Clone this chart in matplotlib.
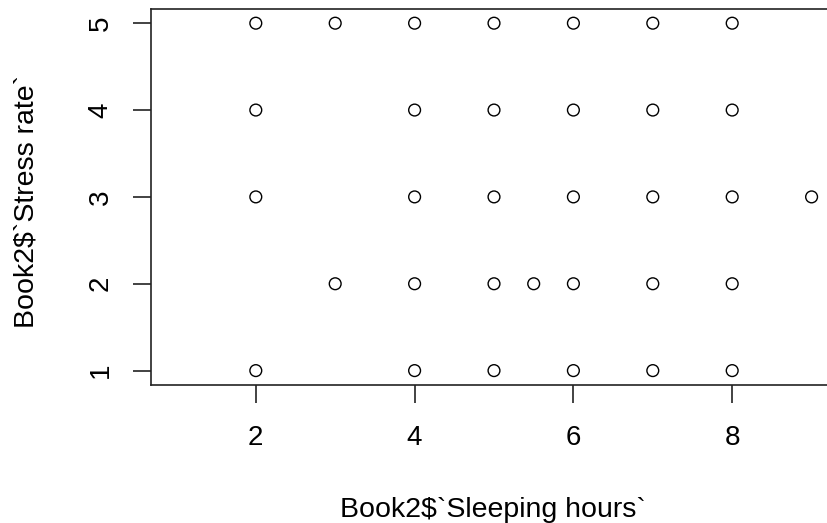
import matplotlib
matplotlib.use('Agg')
import matplotlib.pyplot as plt

# Sleeping hours vs stress rate
sleep_hours = [2, 3, 4, 5, 6, 7, 8,
               2, 4, 5, 6, 7, 8,
               2, 4, 5, 6, 7, 8, 9,
               3, 4, 5, 5.5, 6, 7, 8,
               2, 4, 5, 6, 7, 8]
stress_rate = [5, 5, 5, 5, 5, 5, 5,
               4, 4, 4, 4, 4, 4,
               3, 3, 3, 3, 3, 3, 3,
               2, 2, 2, 2, 2, 2, 2,
               1, 1, 1, 1, 1, 1]
x_ticks = [2, 4, 6, 8]
y_ticks = [1, 2, 3, 4, 5]

plt.rcParams['font.family'] = ['Liberation Sans', 'DejaVu Sans']

fig = plt.figure(figsize=(8.28, 5.23), dpi=100)
ax = fig.add_axes([151/828, 1 - 384.5/523, (837 - 151)/828, (384.5 - 9.3)/523])

ax.scatter(sleep_hours, stress_rate, s=72, facecolors='none',
           edgecolors='black', linewidths=1.0)

ax.set_xlim(0.68, 9.32)
ax.set_ylim(0.84, 5.16)
ax.set_xticks(x_ticks)
ax.set_yticks(y_ticks)
ax.tick_params(axis='both', length=13, width=1.2, labelsize=20, color='#222222')
ax.tick_params(axis='x', pad=16)
ax.tick_params(axis='y', pad=14)
for lab in ax.get_yticklabels():
    lab.set_rotation(90)
    lab.set_va('center')
for sp in ax.spines.values():
    sp.set_linewidth(1.2)
    sp.set_color('#222222')

fig.text(493/828, 1 - 517/523, 'Book2$`Sleeping hours`', ha='center', va='baseline', fontsize=20.5)
fig.text(27/828, 1 - 201/523, 'Book2$`Stress rate`', ha='center', va='center',
         rotation=90, fontsize=20.5)

fig.savefig('out.png', dpi=100)
